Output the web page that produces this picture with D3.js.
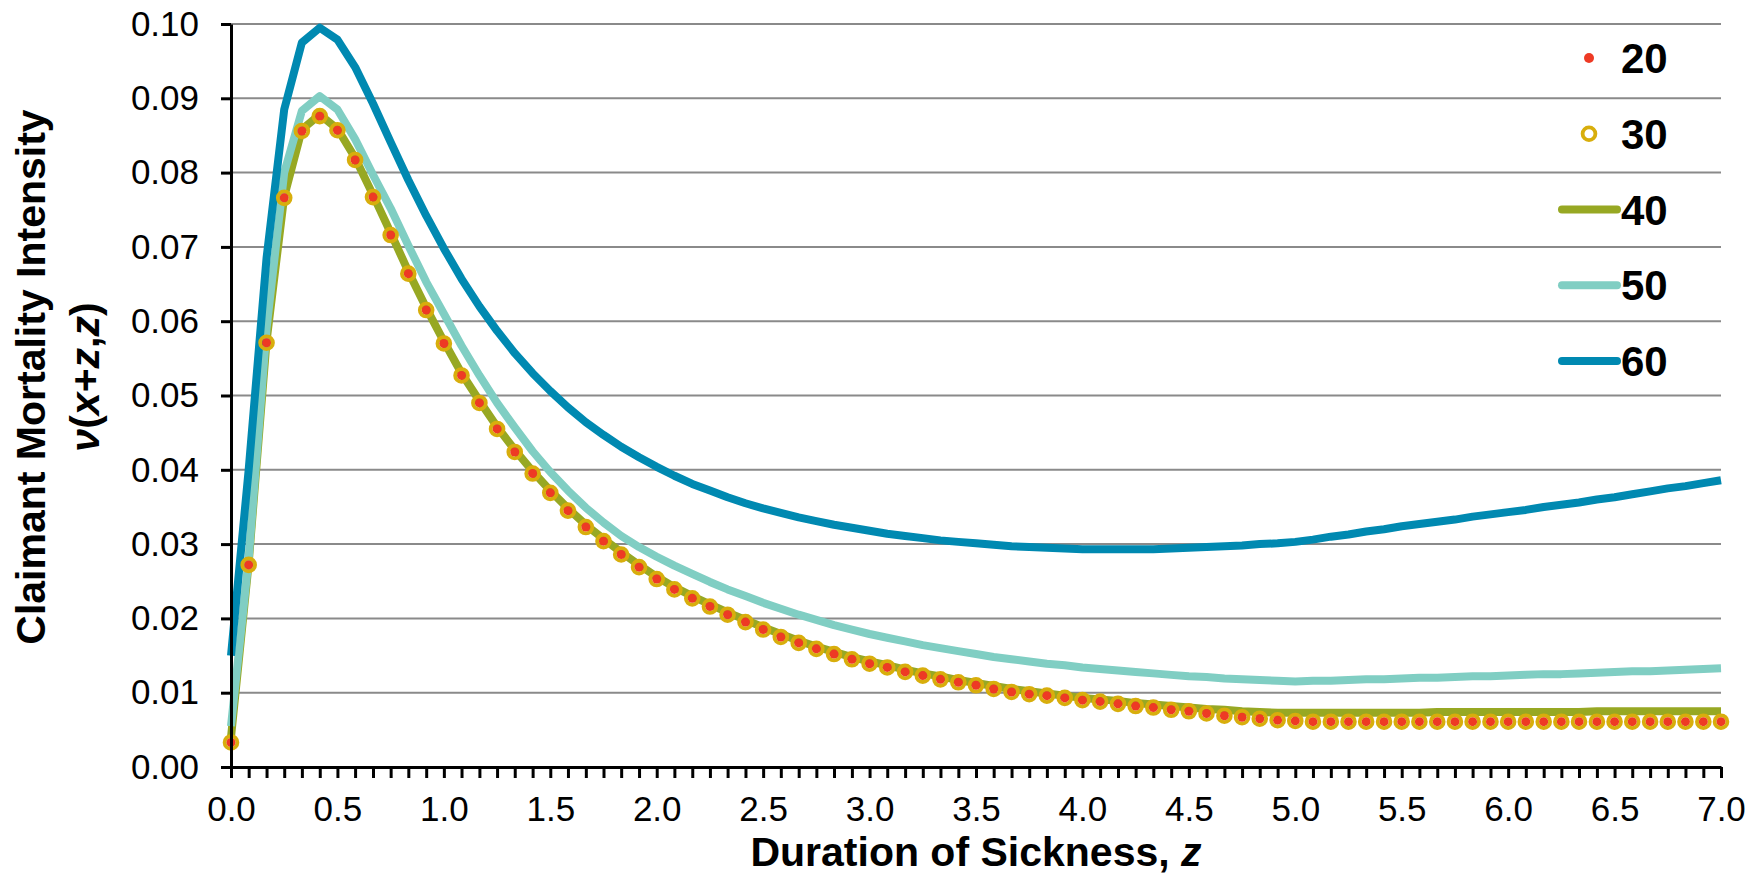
<!DOCTYPE html>
<html>
<head>
<meta charset="utf-8">
<script src="https://cdn.jsdelivr.net/npm/d3@7"></script>
<style>
body{margin:0;background:#fff;}
text{font-family:"Liberation Sans",Arial,sans-serif;}
</style>
</head>
<body>
<div id="chart"></div>
<script>
// duration of sickness z (years, monthly steps)
var zVals=[0.000,0.083,0.167,0.250,0.333,0.417,0.500,0.583,0.667,0.750,0.833,0.917,
           1.000,1.083,1.167,1.250,1.333,1.417,1.500,1.583,1.667,1.750,1.833,1.917,
           2.000,2.083,2.167,2.250,2.333,2.417,2.500,2.583,2.667,2.750,2.833,2.917,
           3.000,3.083,3.167,3.250,3.333,3.417,3.500,3.583,3.667,3.750,3.833,3.917,
           4.000,4.083,4.167,4.250,4.333,4.417,4.500,4.583,4.667,4.750,4.833,4.917,
           5.000,5.083,5.167,5.250,5.333,5.417,5.500,5.583,5.667,5.750,5.833,5.917,
           6.000,6.083,6.167,6.250,6.333,6.417,6.500,6.583,6.667,6.750,6.833,6.917,
           7.000];
var age20=[0.0033,0.0272,0.0571,0.0766,0.0856,0.0876,0.0857,0.0817,0.0767,0.0716,0.0664,0.0615,
           0.0570,0.0527,0.0490,0.0455,0.0424,0.0395,0.0369,0.0345,0.0323,0.0304,0.0286,0.0269,
           0.0253,0.0239,0.0227,0.0216,0.0205,0.0195,0.0185,0.0175,0.0167,0.0159,0.0152,0.0145,
           0.0139,0.0134,0.0128,0.0123,0.0118,0.0114,0.0110,0.0105,0.0101,0.0098,0.0096,0.0093,
           0.0090,0.0088,0.0085,0.0082,0.0080,0.0077,0.0075,0.0072,0.0069,0.0067,0.0065,0.0063,
           0.0062,0.0061,0.0061,0.0061,0.0061,0.0061,0.0061,0.0061,0.0061,0.0061,0.0061,0.0061,
           0.0061,0.0061,0.0061,0.0061,0.0061,0.0061,0.0061,0.0061,0.0061,0.0061,0.0061,0.0061,
           0.0061];
var age30=[0.0033,0.0272,0.0571,0.0766,0.0856,0.0876,0.0857,0.0817,0.0767,0.0716,0.0664,0.0615,
           0.0570,0.0527,0.0490,0.0455,0.0424,0.0395,0.0369,0.0345,0.0323,0.0304,0.0286,0.0269,
           0.0253,0.0239,0.0227,0.0216,0.0205,0.0195,0.0185,0.0175,0.0167,0.0159,0.0152,0.0145,
           0.0139,0.0134,0.0128,0.0123,0.0118,0.0114,0.0110,0.0105,0.0101,0.0098,0.0096,0.0093,
           0.0090,0.0088,0.0085,0.0082,0.0080,0.0077,0.0075,0.0072,0.0069,0.0067,0.0065,0.0063,
           0.0062,0.0061,0.0061,0.0061,0.0061,0.0061,0.0061,0.0061,0.0061,0.0061,0.0061,0.0061,
           0.0061,0.0061,0.0061,0.0061,0.0061,0.0061,0.0061,0.0061,0.0061,0.0061,0.0061,0.0061,
           0.0061];
var age40=[0.0040,0.0274,0.0573,0.0768,0.0858,0.0878,0.0859,0.0820,0.0770,0.0719,0.0667,0.0618,
           0.0573,0.0530,0.0493,0.0458,0.0427,0.0398,0.0372,0.0348,0.0326,0.0307,0.0289,0.0272,
           0.0256,0.0242,0.0230,0.0219,0.0208,0.0198,0.0188,0.0179,0.0170,0.0162,0.0155,0.0148,
           0.0142,0.0137,0.0131,0.0126,0.0122,0.0117,0.0113,0.0109,0.0105,0.0102,0.0099,0.0096,
           0.0093,0.0091,0.0089,0.0086,0.0084,0.0082,0.0080,0.0078,0.0077,0.0075,0.0074,0.0073,
           0.0073,0.0073,0.0073,0.0073,0.0073,0.0073,0.0073,0.0073,0.0074,0.0074,0.0074,0.0074,
           0.0074,0.0074,0.0074,0.0074,0.0074,0.0075,0.0075,0.0075,0.0075,0.0075,0.0075,0.0075,
           0.0075];
var age50=[0.0055,0.0280,0.0590,0.0800,0.0883,0.0903,0.0885,0.0845,0.0797,0.0752,0.0702,0.0653,
           0.0610,0.0567,0.0527,0.0490,0.0457,0.0425,0.0397,0.0372,0.0349,0.0329,0.0311,0.0296,
           0.0283,0.0271,0.0260,0.0249,0.0239,0.0230,0.0221,0.0213,0.0205,0.0198,0.0191,0.0185,
           0.0179,0.0174,0.0169,0.0164,0.0160,0.0156,0.0152,0.0148,0.0145,0.0142,0.0139,0.0137,
           0.0134,0.0132,0.0130,0.0128,0.0126,0.0124,0.0122,0.0121,0.0119,0.0118,0.0117,0.0116,
           0.0115,0.0116,0.0116,0.0117,0.0118,0.0118,0.0119,0.0120,0.0120,0.0121,0.0122,0.0122,
           0.0123,0.0124,0.0125,0.0125,0.0126,0.0127,0.0128,0.0129,0.0129,0.0130,0.0131,0.0132,
           0.0133];
var age60=[0.0150,0.0400,0.0685,0.0885,0.0975,0.0995,0.0979,0.0942,0.0893,0.0841,0.0790,0.0742,
           0.0698,0.0657,0.0620,0.0587,0.0557,0.0530,0.0506,0.0484,0.0464,0.0447,0.0431,0.0417,
           0.0404,0.0392,0.0381,0.0372,0.0363,0.0355,0.0348,0.0342,0.0336,0.0331,0.0326,0.0322,
           0.0318,0.0314,0.0311,0.0308,0.0305,0.0303,0.0301,0.0299,0.0297,0.0296,0.0295,0.0294,
           0.0293,0.0293,0.0293,0.0293,0.0293,0.0294,0.0295,0.0296,0.0297,0.0298,0.0300,0.0301,
           0.0303,0.0306,0.0310,0.0313,0.0317,0.0320,0.0324,0.0327,0.0330,0.0333,0.0337,0.0340,
           0.0343,0.0346,0.0350,0.0353,0.0356,0.0360,0.0363,0.0367,0.0371,0.0375,0.0378,0.0382,
           0.0386];
var seriesNames=['20','30','40','50','60'];
var xTickLabels=['0.0','0.5','1.0','1.5','2.0','2.5','3.0','3.5','4.0','4.5','5.0','5.5','6.0','6.5','7.0'];
var yTicks=[0,0.01,0.02,0.03,0.04,0.05,0.06,0.07,0.08,0.09,0.10];

var svgwidth=1763, svgheight=877;
var margin={"top":24,"right":42,"bottom":110,"left":231};
var xwidth=svgwidth-margin.left-margin.right;
var yheight=svgheight-margin.top-margin.bottom;

var colRed="#ee3a24", colGold="#d8ae0c", colOlive="#97a823", colTeal="#80cec3", colBlue="#0089b1";

var svg=d3.select("#chart")
          .append("svg")
          .attr("width",svgwidth)
          .attr("height",svgheight);
svg.append("rect").attr("width",svgwidth).attr("height",svgheight).attr("fill","#fff");

var xscale=d3.scaleLinear()
             .domain([0,d3.max(zVals)])
             .range([0,xwidth]);
var yscale=d3.scaleLinear()
             .domain([0,0.1])
             .range([yheight,0]);

var board=svg.append("g")
             .attr("transform","translate("+margin.left+","+margin.top+")");

// gridlines
board.selectAll("line.grid")
     .data(yTicks.slice(1))
     .enter()
     .append("line")
     .attr("class","grid")
     .attr("x1",0)
     .attr("x2",xwidth)
     .attr("y1",function(d){return yscale(d)})
     .attr("y2",function(d){return yscale(d)})
     .attr("stroke","#8a8a8a")
     .attr("stroke-width",2);

// lines: 40, 50, 60
var line=d3.line()
           .x(function(d,i){return xscale(zVals[i])})
           .y(function(d){return yscale(d)});
var lineSeries=[[age40,colOlive],[age50,colTeal],[age60,colBlue]];
lineSeries.forEach(function(s){
    board.append("path")
         .datum(s[0])
         .attr("d",line)
         .attr("fill","none")
         .attr("stroke",s[1])
         .attr("stroke-width",8)
         .attr("stroke-linejoin","round");
});

// markers: 30 rings then 20 dots
board.selectAll("circle.s30")
     .data(age30)
     .enter()
     .append("circle")
     .attr("class","s30")
     .attr("cx",function(d,i){return xscale(zVals[i])})
     .attr("cy",function(d){return yscale(d)})
     .attr("r",6.4)
     .attr("fill","none")
     .attr("stroke",colGold)
     .attr("stroke-width",3.8);
board.selectAll("circle.s20")
     .data(age20)
     .enter()
     .append("circle")
     .attr("class","s20")
     .attr("cx",function(d,i){return xscale(zVals[i])})
     .attr("cy",function(d){return yscale(d)})
     .attr("r",4.5)
     .attr("fill",colRed);

// axes
var xAxis=d3.axisBottom(xscale)
            .tickValues(zVals)
            .tickSize(11)
            .tickSizeOuter(0)
            .tickPadding(18)
            .tickFormat(function(d,i){return i%6==0?xTickLabels[i/6]:""});
var yAxis=d3.axisLeft(yscale)
            .tickValues(yTicks)
            .tickSize(10)
            .tickSizeOuter(0)
            .tickPadding(22)
            .tickFormat(d3.format(".2f"));
board.append("g")
     .attr("transform","translate(0,"+yheight+")")
     .call(xAxis);
board.append("g")
     .call(yAxis);
board.selectAll(".domain, .tick line")
     .attr("stroke","#000")
     .attr("stroke-width",3);
board.selectAll(".tick text")
     .attr("fill","#000")
     .style("font-family","'Liberation Sans',Arial,sans-serif")
     .style("font-size","35px");

// axis titles
svg.append("text")
   .attr("x",margin.left+xwidth/2)
   .attr("y",866)
   .attr("text-anchor","middle")
   .style("font-size","41px")
   .style("font-weight","bold")
   .text("Duration of Sickness, ")
   .append("tspan")
   .style("font-style","italic")
   .text("z");
svg.append("text")
   .attr("transform","translate(45,377) rotate(-90)")
   .attr("text-anchor","middle")
   .style("font-size","41px")
   .style("font-weight","bold")
   .text("Claimant Mortality Intensity");
var t2=svg.append("text")
   .attr("transform","translate(99,377) rotate(-90)")
   .attr("text-anchor","middle")
   .style("font-size","41px")
   .style("font-weight","bold");
var parts=[["ν",1],["(",0],["x",1],["+",0],["z",1],[",",0],["z",1],[")",0]];
parts.forEach(function(p){
    t2.append("tspan").style("font-style",p[1]?"italic":"normal").text(p[0]);
});

// legend
var legend=svg.append("g");
seriesNames.forEach(function(name,i){
    var ly=58+i*75.75;
    var row=legend.append("g").attr("transform","translate(0,"+ly+")");
    if(i==0){
        row.append("circle").attr("cx",1589).attr("cy",0).attr("r",5).attr("fill",colRed);
    }else if(i==1){
        row.append("circle").attr("cx",1589).attr("cy",0).attr("r",6.4)
           .attr("fill","#fff").attr("stroke",colGold).attr("stroke-width",3.8);
    }else{
        row.append("line").attr("x1",1562).attr("x2",1617).attr("y1",0).attr("y2",0)
           .attr("stroke",[colOlive,colTeal,colBlue][i-2]).attr("stroke-width",8)
           .attr("stroke-linecap","round");
    }
    row.append("text")
       .attr("x",1621)
       .attr("y",0)
       .attr("dy","0.36em")
       .style("font-size","42px")
       .style("font-weight","bold")
       .text(name);
});
</script>
</body>
</html>
